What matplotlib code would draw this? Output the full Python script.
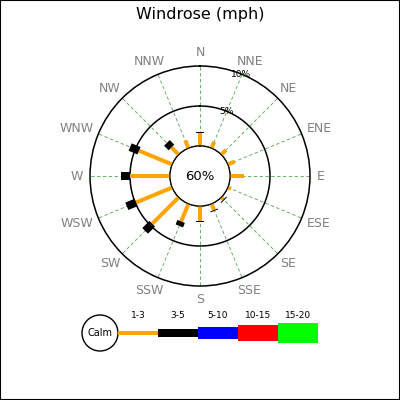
import numpy as np
import matplotlib
matplotlib.use('Agg')
import matplotlib.pyplot as plt
from matplotlib import transforms
from matplotlib.patches import Circle, Rectangle

# data: percent of observations per direction and speed bin
directions = ['N', 'NNE', 'NE', 'ENE', 'E', 'ESE', 'SE', 'SSE',
              'S', 'SSW', 'SW', 'WSW', 'W', 'WNW', 'NW', 'NNW']
speed_1_3 = [1.65, 0.87, 0.84, 0.95, 1.78, 0.45, 0.40, 0.85,
             1.85, 2.40, 4.70, 4.90, 5.00, 4.50, 1.30, 1.05]
speed_3_5 = [0.12, 0.0, 0.0, 0.0, 0.0, 0.0, 0.12, 0.12,
             0.12, 0.60, 1.25, 1.25, 1.10, 1.20, 0.80, 0.0]
calm_pct = 60
rings = [5, 10]
bins = ['1-3', '3-5', '5-10', '10-15', '15-20']
bin_colors = ['orange', 'black', 'blue', 'red', 'lime']

PX_PER_PCT = 8.0
HOLE = 30 / PX_PER_PCT  # calm circle radius, in % units
bin_widths_px = [4, 8, 12, 16, 20]

fig = plt.figure(figsize=(4, 4), dpi=100)
fig.patch.set_facecolor('white')
fig.patches.append(Rectangle((0, 0), 1, 1, transform=fig.transFigure,
                             fill=False, edgecolor='black', lw=1.5))
fig.text(0.5, 1 - 15 / 400, 'Windrose (mph)', ha='center', va='center', fontsize=11.5)

# polar rose, 110 px radius around (200, 176)
cx, cy, R = 200, 176, 110
ax = fig.add_axes([(cx - R) / 400, (400 - cy - R) / 400, 2 * R / 400, 2 * R / 400],
                  projection='polar')
ax.set_theta_zero_location('N')
ax.set_theta_direction(-1)
ax.set_rorigin(-HOLE)
ax.set_ylim(0, rings[-1])
ax.grid(False)
ax.set_xticks([])
ax.set_yticks([])
ax.spines['polar'].set_linewidth(1.1)

theta = np.deg2rad(np.arange(len(directions)) * 22.5)
full = np.linspace(0, 2 * np.pi, 361)

for th in theta:
    ax.plot([th, th], [0, rings[-1]], color='green', lw=0.6, dashes=(4, 3), alpha=0.7)
for r in [0] + rings[:-1]:
    ax.plot(full, np.full_like(full, r), color='black', lw=1.1)
for r in rings:
    ax.text(np.deg2rad(22), r, f'{r}%', ha='center', va='center', fontsize=6.5)

px2pt = 72 / fig.dpi
for th, a, b in zip(theta, speed_1_3, speed_3_5):
    if a > 0:
        ax.plot([th, th], [0, a], color=bin_colors[0], lw=bin_widths_px[0] * px2pt,
                solid_capstyle='butt')
    if b > 0:
        ax.plot([th, th], [a, a + b], color=bin_colors[1], lw=bin_widths_px[1] * px2pt,
                solid_capstyle='butt')

ax.text(0.5, 0.5, f'{calm_pct}%', transform=ax.transAxes, ha='center', va='center',
        fontsize=9.5)

# direction labels: anchored just outside the ring, pushed out by their own size
r_lab = 117 / PX_PER_PCT - HOLE
labels = []
for th, name in zip(theta, directions):
    t = ax.text(th, r_lab, name, ha='center', va='center', fontsize=9,
                color='#808080', clip_on=False)
    labels.append((th, t))
fig.canvas.draw()
for th, t in labels:
    bb = t.get_window_extent()
    dx = np.sin(th) * bb.width / 2
    dy = np.cos(th) * bb.height / 2
    t.set_transform(ax.transData + transforms.ScaledTranslation(dx / fig.dpi, dy / fig.dpi,
                                                                 fig.dpi_scale_trans))

# legend strip in pixel coords
lg = fig.add_axes([0, 0, 1, 1])
lg.set_xlim(0, 400)
lg.set_ylim(400, 0)
lg.axis('off')
lg.patch.set_alpha(0)
lg.add_patch(Circle((100, 333), 18, facecolor='white', edgecolor='black', lw=1))
lg.text(100, 333, 'Calm', ha='center', va='center', fontsize=7)
x0, seg = 118, 40
for i, (lab, col, w) in enumerate(zip(bins, bin_colors, bin_widths_px)):
    xs = x0 + i * seg
    lg.add_patch(Rectangle((xs, 333 - w / 2), seg, w, facecolor=col, edgecolor='none'))
    lg.text(xs + seg / 2, 315, lab, ha='center', va='center', fontsize=6.5)

fig.savefig('out.png', dpi=100)
